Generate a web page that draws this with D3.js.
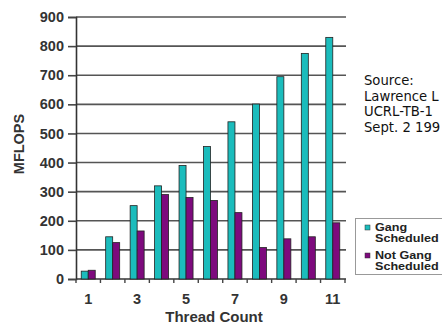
<!DOCTYPE html>
<html><head><meta charset="utf-8">
<script src="https://cdn.jsdelivr.net/npm/d3@7"></script>
<style>
html,body{margin:0;padding:0;background:#fff;overflow:hidden}
svg{display:block}
</style></head>
<body>
<script>
const categories = ["1","2","3","4","5","6","7","8","9","10","11"];
const gangScheduled = [27,145,252,320,390,455,540,601,695,775,830];
const notGangScheduled = [30,125,165,290,280,270,228,108,138,145,193];
const seriesNames = ["Gang Scheduled","Not Gang Scheduled"];
const yTicks = [0,100,200,300,400,500,600,700,800,900];
const xTickLabels = ["1","3","5","7","9","11"];
const sourceLines = ["Source:","Lawrence L","UCRL-TB-1","Sept. 2 199"];

const W = 442, H = 327;
const svg = d3.select("body").append("svg").attr("width", W).attr("height", H);

const x = d3.scaleBand().domain(categories).range([76, 345]).paddingInner(0).paddingOuter(0);
const y = d3.scaleLinear().domain([0, 900]).range([279, 17]);
const barW = 7;

// gridlines
svg.append("g").selectAll("line").data(yTicks.filter(d => d > 0)).join("line")
  .attr("x1", 76).attr("x2", 346)
  .attr("y1", d => y(d)).attr("y2", d => y(d))
  .attr("stroke", "#555").attr("stroke-width", 1.6);

// y axis
const yAxis = d3.axisLeft(y).tickValues(yTicks).tickSize(8).tickPadding(4);
const gy = svg.append("g").attr("transform", "translate(76,0)").call(yAxis);
gy.select(".domain").attr("stroke", "#333").attr("stroke-width", 1.6);
gy.selectAll(".tick line").attr("stroke", "#444").attr("stroke-width", 1.6);
gy.selectAll(".tick text").attr("font-family", "Liberation Sans, Arial, sans-serif")
  .attr("font-weight", "bold").attr("font-size", 14.5).attr("fill", "#333");

// x axis
const xb = d3.scaleLinear().domain([0, categories.length]).range([76, 345]);
const gx = svg.append("g").attr("transform", `translate(0,${y(0)})`);
gx.append("line").attr("x1", 76).attr("x2", 346).attr("stroke", "#333").attr("stroke-width", 1.6);
gx.selectAll("line.tk").data(d3.range(categories.length + 1)).join("line").attr("class", "tk")
  .attr("x1", d => xb(d)).attr("x2", d => xb(d)).attr("y1", 0).attr("y2", 4)
  .attr("stroke", "#444").attr("stroke-width", 1.4);
gx.selectAll("text").data(xTickLabels).join("text")
  .attr("x", d => x(d) + x.bandwidth() / 2).attr("y", 25)
  .attr("text-anchor", "middle")
  .attr("font-family", "Liberation Sans, Arial, sans-serif").attr("font-weight", "bold")
  .attr("font-size", 14.5).attr("fill", "#333").text(d => d);

// bars
const colors = ["#1bbcbc", "#7d0a7d"];
const g = svg.append("g");
categories.forEach((c, i) => {
  const cx = x(c) + x.bandwidth() / 2;
  [gangScheduled[i], notGangScheduled[i]].forEach((v, s) => {
    g.append("rect")
      .attr("x", cx - barW + s * barW).attr("y", y(v))
      .attr("width", barW).attr("height", y(0) - y(v))
      .attr("fill", colors[s]).attr("stroke", "#222").attr("stroke-width", 0.8);
  });
});

// axis titles
svg.append("text").attr("transform", "translate(24,144) rotate(-90)")
  .attr("text-anchor", "middle").attr("font-family", "Liberation Sans, Arial, sans-serif")
  .attr("font-weight", "bold").attr("font-size", 14.5).attr("fill", "#333").text("MFLOPS");
svg.append("text").attr("x", 214).attr("y", 322)
  .attr("text-anchor", "middle").attr("font-family", "Liberation Sans, Arial, sans-serif")
  .attr("font-weight", "bold").attr("font-size", 15).attr("fill", "#333").text("Thread Count");

// source text
svg.append("g").selectAll("text").data(sourceLines).join("text")
  .attr("x", 364).attr("y", (d, i) => 85 + i * 15.5)
  .attr("font-family", "DejaVu Sans, Verdana, sans-serif").attr("font-size", 13.2)
  .attr("fill", "#111").text(d => d);

// legend
const lg = svg.append("g");
lg.append("rect").attr("x", 355.5).attr("y", 218.5).attr("width", 100).attr("height", 56)
  .attr("fill", "#fff").attr("stroke", "#999").attr("stroke-width", 1);
const legendRows = [["Gang", "Scheduled"], ["Not Gang", "Scheduled"]];
legendRows.forEach((r, i) => {
  const yy = 225 + i * 28;
  lg.append("rect").attr("x", 365).attr("y", yy).attr("width", 5).attr("height", 5)
    .attr("fill", colors[i]).attr("stroke", "#333").attr("stroke-width", 0.5);
  lg.append("text").attr("transform", `translate(375,${yy + 6}) scale(1.2,1)`).text(r[0]);
  lg.append("text").attr("transform", `translate(375,${yy + 17}) scale(1.2,1)`).text(r[1]);
});
lg.selectAll("text").attr("font-family", "Liberation Sans, Arial, sans-serif")
  .attr("font-weight", "bold").attr("font-size", 10.5).attr("fill", "#222");
</script>
</body></html>
